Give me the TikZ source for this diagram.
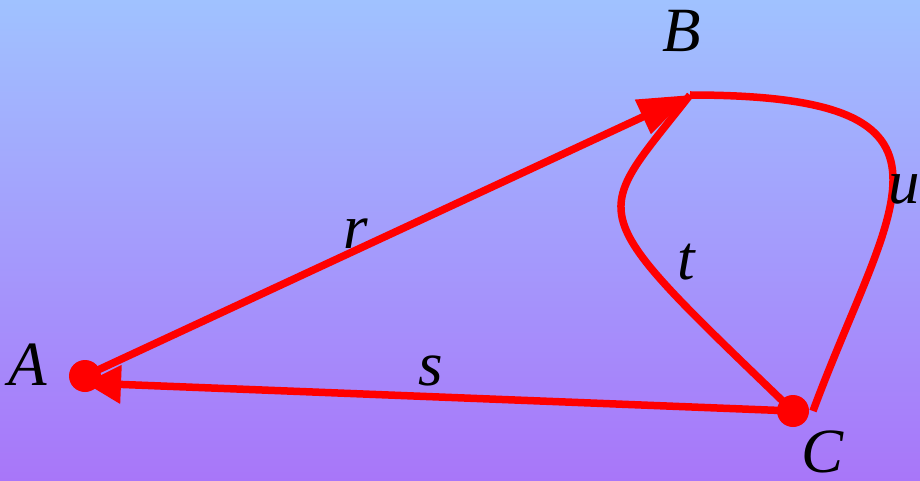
\documentclass[tikz,border=0pt]{standalone}
\usepackage{fontspec}
\setmainfont{Liberation Serif}
\usetikzlibrary{arrows.meta}
\definecolor{skytop}{RGB}{160,194,255}
\definecolor{skymid}{RGB}{202,140,255}
\definecolor{skybot}{RGB}{168,118,249}
\tikzset{
  ln/.style   = {draw=red, line width=7.5pt},
  hd/.style   = {-{Triangle[length=52pt, width=36pt]}},
  hdshort/.style = {-{Triangle[length=36pt, width=37pt]}},
  dot/.style  = {fill=red},
  lbl/.style  = {anchor=base, inner sep=0pt, font=\fontsize{63}{70}\selectfont\itshape},
}

\begin{document}
\begin{tikzpicture}[x=1pt, y=-1pt]
  \useasboundingbox (0,0) rectangle (920,481);
  \shade[top color=skytop, middle color=skymid, bottom color=skybot]
    (0,0) rectangle (920,481);
  % points
  \coordinate (A) at (85,376);
  \coordinate (B) at (690,95);
  \coordinate (C) at (793,411);
  \coordinate (Aend) at (85,383);
  \coordinate (Cend) at (813,411);
  % edges
  \draw[ln, hd] (A) -- (B);
  \draw[ln, hdshort] (C) -- (Aend);
  \draw[ln] (C) .. controls (577,203) and (591,222) .. (B);
  \draw[ln] (B) .. controls (990,95) and (890,203) .. (Cend);
  \fill[dot] (A) circle[radius=16pt];
  \fill[dot] (C) circle[radius=16pt];
  % labels
  \node[lbl] (lA) at (28,385) {A};
  \node[lbl] (lB) at (682,52) {B};
  \node[lbl] (lC) at (822,472) {C};
  \node[lbl] (lr) at (356,248) {r};
  \node[lbl] (ls) at (431,385) {s};
  \node[lbl] (lt) at (686,279) {t};
  \node[lbl] (lu) at (904,203) {u};
\end{tikzpicture}
\end{document}
